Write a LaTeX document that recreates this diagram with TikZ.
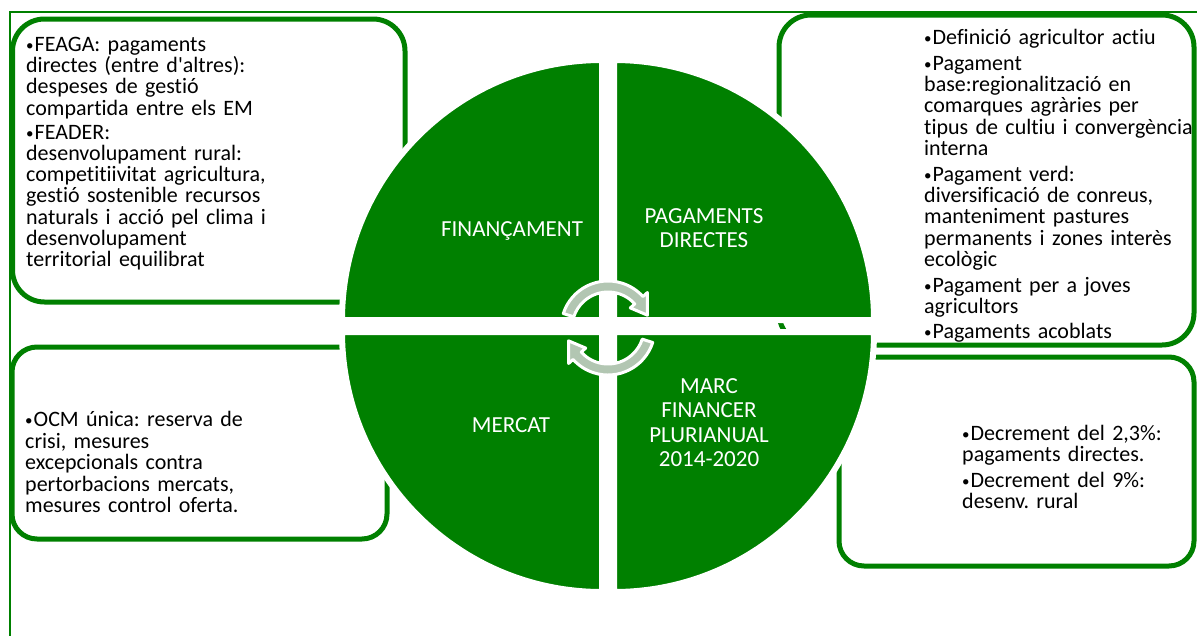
\documentclass[tikz,border=0pt]{standalone}
\usepackage{fontspec}
\setmainfont{Carlito}[Ligatures={NoCommon,TeXOff}]
\usetikzlibrary{calc}

\definecolor{cmgreen}{RGB}{0,128,0}
\definecolor{cyclefill}{RGB}{178,198,178}

% bullet paragraph with hanging indent; lines are broken by hand with \\
\newcommand\bulmark{\raisebox{1pt}{\fontsize{15}{15}\selectfont\textbullet}}
\newcommand\bul[1]{\par\hangindent=8.5pt\hangafter=1\noindent\makebox[8.5pt][l]{\bulmark}\ignorespaces#1}
\newcommand\firstline{\rule{0pt}{17pt}}

\tikzset{
  panel/.style={draw=cmgreen, line width=5pt, fill=white, inner sep=0pt},
  paneltext/.style={anchor=north west, inner sep=0pt, text width=#1, align=left},
  quad/.style={fill=cmgreen, draw=white, line width=6pt},
  cyclearrow/.style={fill=cyclefill, draw=white, line width=3pt, line join=round},
  quadlabel/.style={text=white, inner sep=0pt, align=center,
    font=\fontsize{23}{24.5}\selectfont},
}

\begin{document}
\frenchspacing
\begin{tikzpicture}[x=1pt,y=-1pt]
\useasboundingbox (0,0) rectangle (1197,635);
\fill[white] (0,0) rectangle (1197,635);

% thin page frame
\coordinate (frameBL) at (10,645);
\coordinate (frameTL) at (10,12);
\coordinate (frameTR) at (1205,12);
\draw[cmgreen, line width=1.4pt] (frameBL) -- (frameTL) -- (frameTR);

% four rounded panels
\node[panel, rounded corners=32pt, minimum width=392.5pt, minimum height=283pt] (p1) at (208.75,160.5) {};
\node[panel, rounded corners=32pt, minimum width=415pt, minimum height=330pt] (p2) at (986.5,180) {};
\node[panel, rounded corners=25pt, minimum width=375pt, minimum height=192pt] (p3) at (199.5,443) {};
\node[panel, rounded corners=25pt, minimum width=355pt, minimum height=209pt] (p4) at (1016.5,461.5) {};

% panel texts
\node[paneltext=340pt, font=\fontsize{22}{21.2}\selectfont] (t1) at (26,27) {%
  \setlength{\parskip}{3pt}%
  \bul{\firstline FEAGA: pagaments\\directes (entre d'altres):\\despeses de gestió\\compartida entre els EM}
  \bul{FEADER:\\desenvolupament rural:\\competitiivitat agricultura,\\gestió sostenible recursos\\naturals i acció pel clima i\\desenvolupament\\territorial equilibrat}};

\node[paneltext=300pt, font=\fontsize{22}{21.4}\selectfont] (t2) at (924,19) {%
  \setlength{\parskip}{4pt}%
  \bul{\firstline Definició agricultor actiu}
  \bul{Pagament\\base:regionalització en\\comarques agràries per\\tipus de cultiu i convergència\\interna}
  \bul{Pagament verd:\\diversificació de conreus,\\manteniment pastures\\permanents i zones interès\\ecològic}
  \bul{Pagament per a joves\\agricultors}
  \bul{Pagaments acoblats}};

\node[paneltext=320pt, font=\fontsize{22}{21.5}\selectfont] (t3) at (25,405) {%
  \bul{\firstline OCM única: reserva de\\crisi, mesures\\excepcionals contra\\pertorbacions mercats,\\mesures control oferta.}};

\node[paneltext=230pt, font=\fontsize{22}{20.5}\selectfont] (t4) at (962,414) {%
  \setlength{\parskip}{6pt}%
  \bul{\firstline Decrement del 2,3\%:\\pagaments directes.}
  \bul{Decrement del 9\%:\\desenv. rural}};

% central disc split into four quadrants
\path[quad] (602,320) -- (342,320) arc[start angle=180, end angle=270, radius=260] -- cycle;
\path[quad] (614,320) -- (614,60) arc[start angle=270, end angle=360, radius=260] -- cycle;
\path[quad] (614,332) -- (874,332) arc[start angle=0, end angle=90, radius=260] -- cycle;
\path[quad] (602,332) -- (602,592) arc[start angle=90, end angle=180, radius=260] -- cycle;

% two circular arrows in the middle
\coordinate (C) at (608,328);
\path[cyclearrow] ($(C)+(198:47)$) arc[start angle=198, end angle=318, radius=47]
  -- ($(C)+(318:53)$) -- ($(C)+(342:41.5)$) -- ($(C)+(318:30)$)
  -- ($(C)+(318:36)$) arc[start angle=318, end angle=198, radius=36] -- cycle;
\path[cyclearrow] ($(C)+(18:47)$) arc[start angle=18, end angle=138, radius=47]
  -- ($(C)+(138:53)$) -- ($(C)+(162:41.5)$) -- ($(C)+(138:30)$)
  -- ($(C)+(138:36)$) arc[start angle=138, end angle=18, radius=36] -- cycle;

% quadrant labels
\node[quadlabel, anchor=base] (q1) at (512,236) {FINANÇAMENT};
\node[quadlabel] (q2) at (704,228) {PAGAMENTS\\DIRECTES};
\node[quadlabel, anchor=base] (q3) at (511,432) {MERCAT};
\node[quadlabel] (q4) at (709,422.5) {MARC\\FINANCER\\PLURIANUAL\\2014-2020};
\end{tikzpicture}
\end{document}
